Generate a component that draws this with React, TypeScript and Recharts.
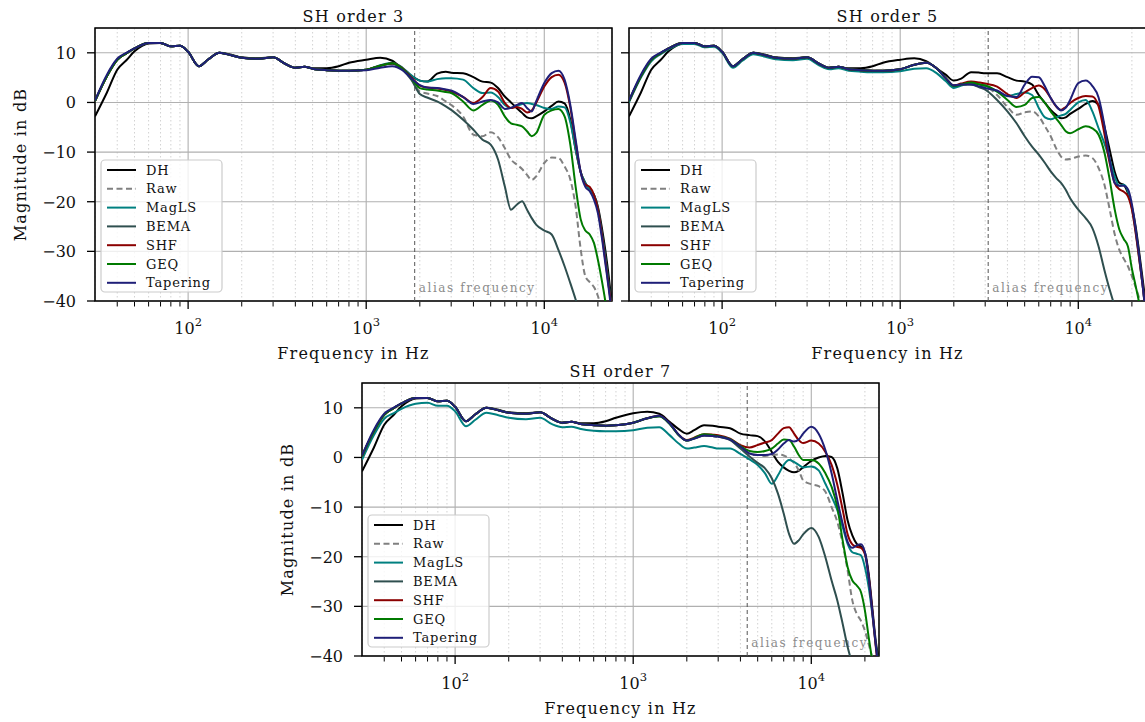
import React from "react";
import {
  LineChart,
  Line,
  XAxis,
  YAxis,
  CartesianGrid,
  ReferenceLine,
  ReferenceArea,
} from "recharts";

// frequency grid shared by all three panels (Hz)
const FREQ = [
  30, 35, 40, 45, 50, 60, 70, 80, 90, 100, 115, 130, 150, 175, 200, 250, 300, 350, 400, 450, 500, 600, 700, 800,
  1000, 1200, 1400, 1600, 1800, 2000, 2200, 2500, 2800, 3000, 3500, 4000, 4500, 5000,
  5500, 6000, 6500, 7000, 7500, 8000, 8500, 9000, 10000, 11000, 12000, 13000, 14000, 15000, 16000, 17000, 18000, 19000, 20000, 21000, 22000, 23000, 24000,
];

const X_DOMAIN: [number, number] = [30, 24000];
const Y_DOMAIN: [number, number] = [-40, 15];
const X_MAJOR = [100, 1000, 10000];
const X_MINOR = [
  40, 50, 60, 70, 80, 90, 200, 300, 400, 500, 600, 700, 800, 900,
  2000, 3000, 4000, 5000, 6000, 7000, 8000, 9000, 20000,
];
const Y_TICKS = [-40, -30, -20, -10, 0, 10];

// spatial aliasing frequency per SH order
const ALIAS_FREQ = [1872, 3119, 4367];
const TITLES = ["SH order 3", "SH order 5", "SH order 7"];

// ---- SH order 3 (dB) ----
const O3_DH = [
  -2.8, 2.0, 6.6, 8.5, 10.3, 11.9, 12.0, 11.3, 11.4, 10.2, 7.3, 8.7, 10.0, 9.6, 9.1, 8.9, 9.1, 7.8, 7.0, 7.2, 6.9, 6.9, 7.3, 8.0,
  8.6, 9.0, 8.4, 6.7, 5.3, 4.4, 4.2, 5.8, 6.2, 6.0, 5.9, 5.1, 4.2, 4.0,
  2.9, 1.2, 0.0, -1.1, -2.1, -3.0, -3.2, -2.8, -1.8, -0.7, 0.2, -0.2, -3.5, -9.5, -14.0, -16.2, -17.6, -18.6, -21.0, -25.0, -29.7, -35.0, -41.0,
];
const O3_RAW = [
  0.3, 5.3, 8.6, 9.9, 10.9, 12.0, 12.0, 11.3, 11.4, 10.2, 7.3, 8.7, 10.0, 9.5, 9.0, 8.8, 9.1, 7.8, 7.0, 7.2, 6.8, 6.5, 6.4, 6.4,
  6.6, 7.4, 7.8, 6.6, 4.6, 2.2, 1.8, 1.3, 0.2, -0.5, -2.8, -6.5, -6.8, -6.0,
  -7.0, -9.2, -11.5, -12.5, -13.4, -14.6, -15.6, -14.9, -12.2, -11.1, -11.2, -12.9, -15.5, -21.0, -29.5, -35.0, -36.2, -37.2, -39.0, -42.0, null, null, null,
];
const O3_MAGLS = [
  0.3, 5.3, 8.6, 9.9, 10.9, 12.0, 12.0, 11.3, 11.4, 10.2, 7.3, 8.7, 10.0, 9.5, 9.0, 8.8, 9.1, 7.8, 7.0, 7.2, 6.8, 6.5, 6.4, 6.4,
  6.6, 7.5, 8.0, 7.0, 5.4, 4.4, 4.2, 4.7, 4.9, 4.9, 4.6, 2.9, 1.9, 2.0,
  1.1, -0.5, -1.1, -0.7, -0.3, -0.1, -0.3, -0.5, -1.1, -1.3, -0.8, -1.0, -4.0, -9.5, -14.0, -16.2, -17.6, -18.6, -21.5, -26.0, -31.0, -36.5, -42.0,
];
const O3_BEMA = [
  0.3, 5.3, 8.6, 9.9, 10.9, 12.0, 12.0, 11.3, 11.4, 10.2, 7.3, 8.7, 10.0, 9.5, 9.0, 8.8, 9.1, 7.8, 7.0, 7.2, 6.8, 6.5, 6.4, 6.4,
  6.6, 7.4, 7.8, 6.6, 4.5, 1.7, 1.0, 0.2, -0.8, -1.5, -3.5, -5.5, -7.5, -8.5,
  -11.5, -16.9, -21.6, -20.6, -19.9, -21.6, -23.3, -24.6, -25.8, -26.6, -29.7, -33.0, -36.4, -39.7, -43.0, null, null, null, null, null, null, null, null,
];
const O3_SHF = [
  0.3, 5.3, 8.6, 9.9, 10.9, 12.0, 12.0, 11.3, 11.4, 10.2, 7.3, 8.7, 10.0, 9.5, 9.0, 8.8, 9.1, 7.8, 7.0, 7.2, 6.8, 6.5, 6.4, 6.4,
  6.6, 7.4, 7.9, 6.9, 5.0, 3.4, 3.0, 2.8, 2.5, 2.2, 1.1, -0.1, 1.1, 2.9,
  2.2, -0.1, -1.1, -0.9, -1.3, -2.0, -1.6, -0.1, 3.2, 5.1, 5.6, 4.0, -1.0, -8.0, -14.0, -16.5, -17.0, -18.6, -21.6, -26.3, -31.7, -37.0, -42.0,
];
const O3_GEQ = [
  0.3, 5.3, 8.6, 9.9, 10.9, 12.0, 12.0, 11.3, 11.4, 10.2, 7.3, 8.7, 10.0, 9.5, 9.0, 8.8, 9.1, 7.8, 7.0, 7.2, 6.8, 6.5, 6.4, 6.4,
  6.6, 7.4, 7.9, 6.8, 4.8, 2.9, 2.6, 2.4, 2.1, 1.9, 0.2, -1.6, -0.5, 0.4,
  -0.5, -2.8, -4.2, -4.5, -4.8, -5.8, -6.8, -6.2, -2.5, -1.6, -1.3, -2.8, -8.5, -17.0, -23.5, -25.8, -26.6, -28.3, -31.7, -35.7, -40.0, -45.0, null,
];
const O3_TAPERING = [
  0.4, 5.6, 8.8, 10.0, 10.9, 12.0, 12.0, 11.3, 11.4, 10.2, 7.3, 8.7, 10.0, 9.5, 9.0, 8.8, 9.1, 7.8, 7.0, 7.2, 6.8, 6.5, 6.4, 6.4,
  6.5, 7.0, 7.3, 6.5, 4.8, 3.5, 3.0, 2.9, 2.6, 2.4, 1.1, -0.3, 0.2, 0.5,
  0.0, -1.3, -1.1, -0.5, -0.1, -1.1, -1.8, 0.2, 3.9, 5.9, 6.4, 4.6, -0.5, -7.5, -14.0, -17.0, -17.9, -19.6, -22.3, -27.0, -32.3, -37.5, -43.0,
];

// ---- SH order 5 (dB) ----
const O5_DH = [
  -2.8, 2.0, 6.6, 8.5, 10.3, 11.9, 12.0, 11.3, 11.4, 10.2, 7.3, 8.7, 10.0, 9.6, 9.1, 8.9, 9.1, 7.8, 7.0, 7.2, 6.9, 6.9, 7.3, 8.0,
  8.6, 8.9, 8.3, 6.9, 5.6, 4.4, 4.8, 6.1, 6.0, 5.9, 5.9, 5.1, 4.4, 4.2,
  3.6, 1.5, -0.1, -1.5, -2.5, -3.2, -3.0, -2.3, -1.3, -0.3, 0.3, -0.5, -4.8, -9.5, -13.9, -16.2, -16.6, -18.3, -21.0, -25.0, -30.3, -35.7, -41.0,
];
const O5_RAW = [
  0.3, 5.3, 8.6, 9.9, 10.9, 12.0, 12.0, 11.3, 11.4, 10.2, 7.3, 8.7, 10.0, 9.5, 9.0, 8.8, 9.1, 7.8, 7.0, 7.2, 6.8, 6.5, 6.4, 6.4,
  6.7, 7.6, 8.0, 6.9, 4.9, 3.4, 3.6, 3.6, 3.3, 3.2, 1.5, -0.9, -2.5, -2.0,
  -1.8, -2.8, -4.8, -6.8, -9.2, -10.9, -11.5, -11.4, -10.9, -10.7, -11.2, -13.2, -16.5, -21.5, -26.5, -29.7, -31.5, -33.0, -35.0, -37.2, -39.5, -42.0, null,
];
const O5_MAGLS = [
  0.0, 5.0, 8.3, 9.7, 10.7, 11.8, 11.8, 11.1, 11.2, 10.0, 7.0, 8.4, 9.7, 9.2, 8.7, 8.5, 8.8, 7.5, 6.7, 6.9, 6.5, 6.2, 6.1, 6.1,
  6.3, 6.8, 6.9, 5.9, 4.3, 2.9, 3.4, 3.9, 3.6, 3.4, 2.2, 1.3, 1.7, 2.0,
  1.5, -1.1, -3.0, -3.4, -3.0, -2.6, -2.3, -1.5, 0.0, 0.5, -1.8, -5.2, -8.2, -11.5, -14.9, -16.8, -16.6, -17.9, -21.3, -26.0, -31.5, -37.0, -43.0,
];
const O5_BEMA = [
  0.3, 5.3, 8.6, 9.9, 10.9, 12.0, 12.0, 11.3, 11.4, 10.2, 7.3, 8.7, 10.0, 9.5, 9.0, 8.8, 9.1, 7.8, 7.0, 7.2, 6.8, 6.5, 6.4, 6.4,
  6.7, 7.6, 8.0, 6.9, 4.9, 3.4, 3.6, 3.6, 3.0, 2.6, 0.5, -1.8, -4.2, -6.8,
  -8.9, -10.5, -12.2, -13.9, -15.2, -16.2, -17.6, -19.3, -21.6, -23.3, -25.3, -29.0, -33.7, -37.7, -41.0, null, null, null, null, null, null, null, null,
];
const O5_SHF = [
  0.3, 5.3, 8.6, 9.9, 10.9, 12.0, 12.0, 11.3, 11.4, 10.2, 7.3, 8.7, 10.0, 9.5, 9.0, 8.8, 9.1, 7.8, 7.0, 7.2, 6.8, 6.5, 6.4, 6.4,
  6.7, 7.6, 8.0, 6.9, 4.9, 3.4, 3.8, 4.2, 4.0, 3.8, 3.2, 1.7, 0.9, 2.0,
  2.9, 3.4, 2.6, 0.9, -0.8, -1.5, -0.9, -0.1, 0.9, 1.3, 1.2, -0.8, -6.2, -12.2, -16.2, -17.5, -18.0, -18.9, -21.6, -26.3, -31.7, -37.0, -43.0,
];
const O5_GEQ = [
  0.3, 5.3, 8.6, 9.9, 10.9, 12.0, 12.0, 11.3, 11.4, 10.2, 7.3, 8.7, 10.0, 9.5, 9.0, 8.8, 9.1, 7.8, 7.0, 7.2, 6.8, 6.5, 6.4, 6.4,
  6.7, 7.6, 8.0, 6.9, 4.9, 3.3, 3.6, 4.0, 3.6, 3.4, 2.2, 0.5, -0.9, -0.5,
  0.9, 1.1, -0.1, -1.8, -3.2, -4.5, -5.8, -6.2, -5.4, -4.8, -5.2, -6.5, -10.0, -15.5, -21.5, -25.6, -27.5, -29.0, -33.5, -37.0, -40.5, -45.0, null,
];
const O5_TAPERING = [
  0.4, 5.6, 8.8, 10.0, 10.9, 12.0, 12.0, 11.3, 11.4, 10.2, 7.3, 8.7, 10.0, 9.5, 9.0, 8.8, 9.1, 7.8, 7.0, 7.2, 6.8, 6.5, 6.4, 6.4,
  6.7, 7.6, 8.0, 6.9, 4.9, 3.4, 3.6, 3.6, 3.2, 2.9, 2.4, 1.3, 1.1, 3.6,
  5.2, 5.1, 3.2, 0.9, -0.7, -1.6, -1.1, 0.5, 3.9, 4.4, 3.3, 1.0, -4.5, -11.5, -16.2, -16.8, -16.8, -17.5, -20.5, -25.5, -31.0, -37.0, -43.0,
];

// ---- SH order 7 (dB) ----
const O7_DH = [
  -2.8, 2.0, 6.6, 8.5, 10.3, 11.9, 12.0, 11.3, 11.4, 10.2, 7.3, 8.7, 10.0, 9.6, 9.1, 8.9, 9.1, 7.8, 7.0, 7.2, 6.9, 6.9, 7.3, 8.0,
  8.9, 9.2, 8.8, 7.2, 5.7, 4.8, 5.5, 6.5, 6.4, 6.2, 5.9, 4.8, 4.5, 4.3,
  3.2, 1.1, -0.9, -2.0, -2.7, -3.0, -2.7, -2.0, -0.7, 0.0, 0.3, 0.1, -2.2, -7.3, -12.7, -15.7, -17.4, -18.0, -19.1, -23.4, -30.2, -36.9, -41.0,
];
const O7_RAW = [
  0.3, 5.3, 8.6, 9.9, 10.9, 12.0, 12.0, 11.3, 11.4, 10.2, 7.3, 8.7, 10.0, 9.5, 9.0, 8.8, 9.1, 7.8, 7.0, 7.2, 6.8, 6.5, 6.4, 6.5,
  7.0, 7.9, 8.3, 6.8, 4.5, 3.4, 3.8, 4.4, 4.3, 4.2, 3.6, 2.0, 0.6, 0.5,
  0.3, 0.5, 0.6, 0.4, -0.2, -1.1, -2.6, -4.6, -5.4, -5.8, -6.9, -10.0, -13.0, -17.4, -22.8, -28.8, -31.5, -32.9, -34.9, -37.6, -40.3, null, null,
];
const O7_MAGLS = [
  -0.5, 4.5, 7.8, 8.9, 9.8, 10.8, 11.0, 10.4, 10.4, 9.3, 6.3, 7.6, 9.0, 8.5, 8.0, 7.7, 8.0, 6.7, 6.1, 6.2, 5.8, 5.4, 5.3, 5.3,
  5.5, 6.0, 6.1, 4.5, 2.8, 1.8, 2.0, 2.3, 2.0, 1.8, 1.8, 0.7, -0.4, -1.5,
  -3.2, -5.3, -3.6, -1.5, -0.5, -0.9, -1.5, -2.0, -1.8, -2.6, -5.3, -7.9, -10.6, -14.0, -17.4, -19.1, -19.4, -19.7, -22.1, -26.1, -31.5, -37.6, -42.0,
];
const O7_BEMA = [
  0.3, 5.3, 8.6, 9.9, 10.9, 12.0, 12.0, 11.3, 11.4, 10.2, 7.3, 8.7, 10.0, 9.5, 9.0, 8.8, 9.1, 7.8, 7.0, 7.2, 6.8, 6.5, 6.4, 6.5,
  7.0, 7.9, 8.3, 6.8, 4.5, 3.4, 3.8, 4.4, 4.3, 4.2, 3.5, 1.8, 0.2, -1.1,
  -2.2, -4.2, -7.3, -11.3, -15.4, -17.4, -16.7, -15.5, -14.2, -16.0, -20.1, -24.8, -28.8, -33.5, -38.2, -41.6, null, null, null, null, null, null, null,
];
const O7_SHF = [
  0.3, 5.3, 8.6, 9.9, 10.9, 12.0, 12.0, 11.3, 11.4, 10.2, 7.3, 8.7, 10.0, 9.5, 9.0, 8.8, 9.1, 7.8, 7.0, 7.2, 6.8, 6.5, 6.4, 6.5,
  7.0, 7.9, 8.4, 6.9, 4.6, 3.5, 4.0, 4.7, 4.6, 4.5, 3.8, 2.5, 2.0, 2.5,
  3.0, 3.5, 4.8, 5.9, 6.1, 4.8, 3.5, 2.9, 3.4, 2.8, 1.1, -1.5, -5.5, -10.5, -15.5, -17.5, -18.0, -18.2, -19.5, -24.0, -31.0, -38.0, -44.0,
];
const O7_GEQ = [
  0.3, 5.3, 8.6, 9.9, 10.9, 12.0, 12.0, 11.3, 11.4, 10.2, 7.3, 8.7, 10.0, 9.5, 9.0, 8.8, 9.1, 7.8, 7.0, 7.2, 6.8, 6.5, 6.4, 6.5,
  7.0, 7.9, 8.3, 6.8, 4.5, 3.4, 3.9, 4.7, 4.5, 4.3, 3.7, 2.3, 1.3, 1.1,
  1.3, 1.8, 2.8, 3.6, 3.5, 2.2, 0.5, -0.5, -0.5, -1.2, -3.2, -5.9, -10.0, -16.7, -22.1, -24.8, -25.8, -27.1, -30.8, -36.2, -41.0, null, null,
];
const O7_TAPERING = [
  0.4, 5.6, 8.8, 10.0, 10.9, 12.0, 12.0, 11.3, 11.4, 10.2, 7.3, 8.7, 10.0, 9.5, 9.0, 8.8, 9.1, 7.8, 7.0, 7.2, 6.8, 6.5, 6.4, 6.5,
  7.0, 7.9, 8.4, 6.9, 4.6, 3.4, 3.8, 4.4, 4.3, 4.2, 3.6, 2.2, 0.8, 0.5,
  0.5, 0.7, 1.6, 2.8, 3.5, 3.2, 3.6, 4.8, 6.2, 4.8, 1.5, -3.2, -8.6, -13.3, -17.0, -18.2, -17.7, -17.5, -19.1, -24.1, -31.0, -37.6, -44.0,
];

const SERIES = [
  { key: "dh", name: "DH", color: "#000000", dash: undefined as string | undefined },
  { key: "raw", name: "Raw", color: "#808080", dash: "6 3.5" },
  { key: "magls", name: "MagLS", color: "#008080", dash: undefined },
  { key: "bema", name: "BEMA", color: "#2f4f4f", dash: undefined },
  { key: "shf", name: "SHF", color: "#8b0000", dash: undefined },
  { key: "geq", name: "GEQ", color: "#007a00", dash: undefined },
  { key: "tapering", name: "Tapering", color: "#1f1f78", dash: undefined },
];

type Col = (number | null)[];

const buildRows = (cols: Record<string, Col>) =>
  FREQ.map((f, i) => {
    const row: Record<string, number | null> = { f };
    Object.keys(cols).forEach((k) => {
      row[k] = cols[k][i];
    });
    return row;
  });

const ROWS = [
  buildRows({ dh: O3_DH, raw: O3_RAW, magls: O3_MAGLS, bema: O3_BEMA, shf: O3_SHF, geq: O3_GEQ, tapering: O3_TAPERING }),
  buildRows({ dh: O5_DH, raw: O5_RAW, magls: O5_MAGLS, bema: O5_BEMA, shf: O5_SHF, geq: O5_GEQ, tapering: O5_TAPERING }),
  buildRows({ dh: O7_DH, raw: O7_RAW, magls: O7_MAGLS, bema: O7_BEMA, shf: O7_SHF, geq: O7_GEQ, tapering: O7_TAPERING }),
];

const FONT = "'DejaVu Serif', serif";
const TEXT = "#111";
const PLOT_W = 517;
const PLOT_H = 273;
const AXIS_PAD = 1; // thickness reserved for each axis
const LINE_W = 2;

// chart boxes; plot area = margin + 1px axis strip, 517 x 273 each
const PANELS = [
  { left: 0, top: 0, width: 620, height: 370, plotLeft: 95, plotTop: 28, yLabels: true },
  { left: 620, top: 0, width: 530, height: 370, plotLeft: 9, plotTop: 28, yLabels: false },
  { left: 270, top: 360, width: 620, height: 362, plotLeft: 92, plotTop: 23, yLabels: true },
];

const marginOf = (p: (typeof PANELS)[number]) => ({
  top: p.plotTop,
  left: p.plotLeft - AXIS_PAD,
  right: p.width - p.plotLeft - PLOT_W,
  bottom: p.height - p.plotTop - PLOT_H - 2 * AXIS_PAD,
});

const XTick = ({ x, y, payload }: any) => {
  const exp = Math.round(Math.log10(payload.value));
  return (
    <text x={x} y={y + 25} textAnchor="middle" fontFamily={FONT} fontSize={16} fill={TEXT}>
      10
      <tspan dy={-8} fontSize={11.5}>
        {exp}
      </tspan>
    </text>
  );
};

const YTick = ({ x, y, payload }: any) => {
  const v = payload.value as number;
  const label = v < 0 ? `\u2212${Math.abs(v)}` : `${v}`;
  return (
    <text x={x} y={y} dy={6} textAnchor="end" fontFamily={FONT} fontSize={16} fill={TEXT}>
      {label}
    </text>
  );
};

const AliasLabel = (props: any) => {
  const vb = props.viewBox || {};
  return (
    <text
      x={vb.x + 4}
      y={vb.y + vb.height - 9}
      fontFamily={FONT}
      fontSize={12}
      letterSpacing={1.6}
      fill="#8c8c8c"
    >
      alias frequency
    </text>
  );
};

const Panel = ({ idx }: { idx: number }) => {
  const p = PANELS[idx];
  return (
    <div style={{ position: "absolute", left: p.left, top: p.top }}>
      <LineChart width={p.width} height={p.height} data={ROWS[idx]} margin={marginOf(p)}>
        <XAxis
          xAxisId="major"
          dataKey="f"
          type="number"
          scale="log"
          domain={X_DOMAIN}
          allowDataOverflow
          ticks={X_MAJOR}
          interval={0}
          tick={<XTick />}
          tickSize={8}
          tickMargin={0}
          tickLine={{ stroke: "#000", strokeWidth: 1.3 }}
          axisLine={false}
          height={AXIS_PAD}
        />
        <XAxis
          xAxisId="minor"
          dataKey="f"
          type="number"
          scale="log"
          domain={X_DOMAIN}
          allowDataOverflow
          ticks={X_MINOR}
          interval={0}
          tick={() => <g />}
          tickSize={4.5}
          tickLine={{ stroke: "#000", strokeWidth: 1 }}
          axisLine={false}
          height={AXIS_PAD}
        />
        <YAxis
          type="number"
          domain={Y_DOMAIN}
          allowDataOverflow
          ticks={Y_TICKS}
          interval={0}
          tick={p.yLabels ? <YTick /> : () => <g />}
          tickSize={8}
          tickMargin={11}
          tickLine={{ stroke: "#000", strokeWidth: 1.3 }}
          axisLine={false}
          width={AXIS_PAD}
        />
        <CartesianGrid xAxisId="minor" horizontal={false} stroke="#d2d2d2" strokeDasharray="1.5 2.5" />
        <CartesianGrid xAxisId="major" stroke="#b0b0b0" strokeWidth={1.1} />
        <ReferenceLine
          xAxisId="major"
          x={ALIAS_FREQ[idx]}
          stroke="#555"
          strokeWidth={1}
          strokeDasharray="4 3"
          label={AliasLabel}
        />
        {SERIES.map((s) => (
          <Line
            key={s.key}
            xAxisId="major"
            type="monotone"
            dataKey={s.key}
            name={s.name}
            stroke={s.color}
            strokeWidth={LINE_W}
            strokeDasharray={s.dash}
            dot={false}
            activeDot={false}
            connectNulls={false}
            isAnimationActive={false}
          />
        ))}
        <ReferenceArea
          xAxisId="major"
          x1={X_DOMAIN[0]}
          x2={X_DOMAIN[1]}
          y1={Y_DOMAIN[0]}
          y2={Y_DOMAIN[1]}
          fill="none"
          stroke="#000"
          strokeWidth={1.5}
        />
      </LineChart>
    </div>
  );
};

// titles, axis labels and legends drawn on top of the charts
const Overlay = () => (
  <svg
    width={1145}
    height={722}
    style={{ position: "absolute", left: 0, top: 0, pointerEvents: "none" }}
    fontFamily={FONT}
  >
    {PANELS.map((p, i) => {
      const x0 = p.left + p.plotLeft;
      const y0 = p.top + p.plotTop;
      const cx = x0 + PLOT_W / 2;
      const cy = y0 + PLOT_H / 2;
      const lx = x0 + 6;
      const ly = y0 + PLOT_H - 141;
      return (
        <g key={i}>
          <text x={cx} y={y0 - 6} textAnchor="middle" fontSize={16} letterSpacing={1.2} fill={TEXT}>
            {TITLES[i]}
          </text>
          <text x={cx} y={y0 + PLOT_H + 58} textAnchor="middle" fontSize={16} letterSpacing={1.2} fill={TEXT}>
            Frequency in Hz
          </text>
          {p.yLabels && (
            <text
              x={x0 - 75}
              y={cy}
              transform={`rotate(-90 ${x0 - 75} ${cy})`}
              textAnchor="middle"
              dominantBaseline="central"
              fontSize={16}
              letterSpacing={1.2}
              fill={TEXT}
            >
              Magnitude in dB
            </text>
          )}
          <rect
            x={lx}
            y={ly}
            width={121}
            height={132}
            rx={4}
            fill="#fff"
            fillOpacity={0.8}
            stroke="#cccccc"
            strokeWidth={1.2}
          />
          {SERIES.map((s, k) => {
            const yy = ly + 10 + k * 18.8;
            return (
              <g key={s.key}>
                <line
                  x1={lx + 6}
                  x2={lx + 35}
                  y1={yy}
                  y2={yy}
                  stroke={s.color}
                  strokeWidth={LINE_W}
                  strokeDasharray={s.dash}
                />
                <text x={lx + 45} y={yy + 4.5} fontSize={13} letterSpacing={0.8} fill={TEXT}>
                  {s.name}
                </text>
              </g>
            );
          })}
        </g>
      );
    })}
  </svg>
);

export default function App() {
  return (
    <div
      style={{
        position: "absolute",
        left: 0,
        top: 0,
        width: 1145,
        height: 722,
        overflow: "hidden",
        background: "#fff",
      }}
    >
      <Panel idx={0} />
      <Panel idx={1} />
      <Panel idx={2} />
      <Overlay />
    </div>
  );
}
